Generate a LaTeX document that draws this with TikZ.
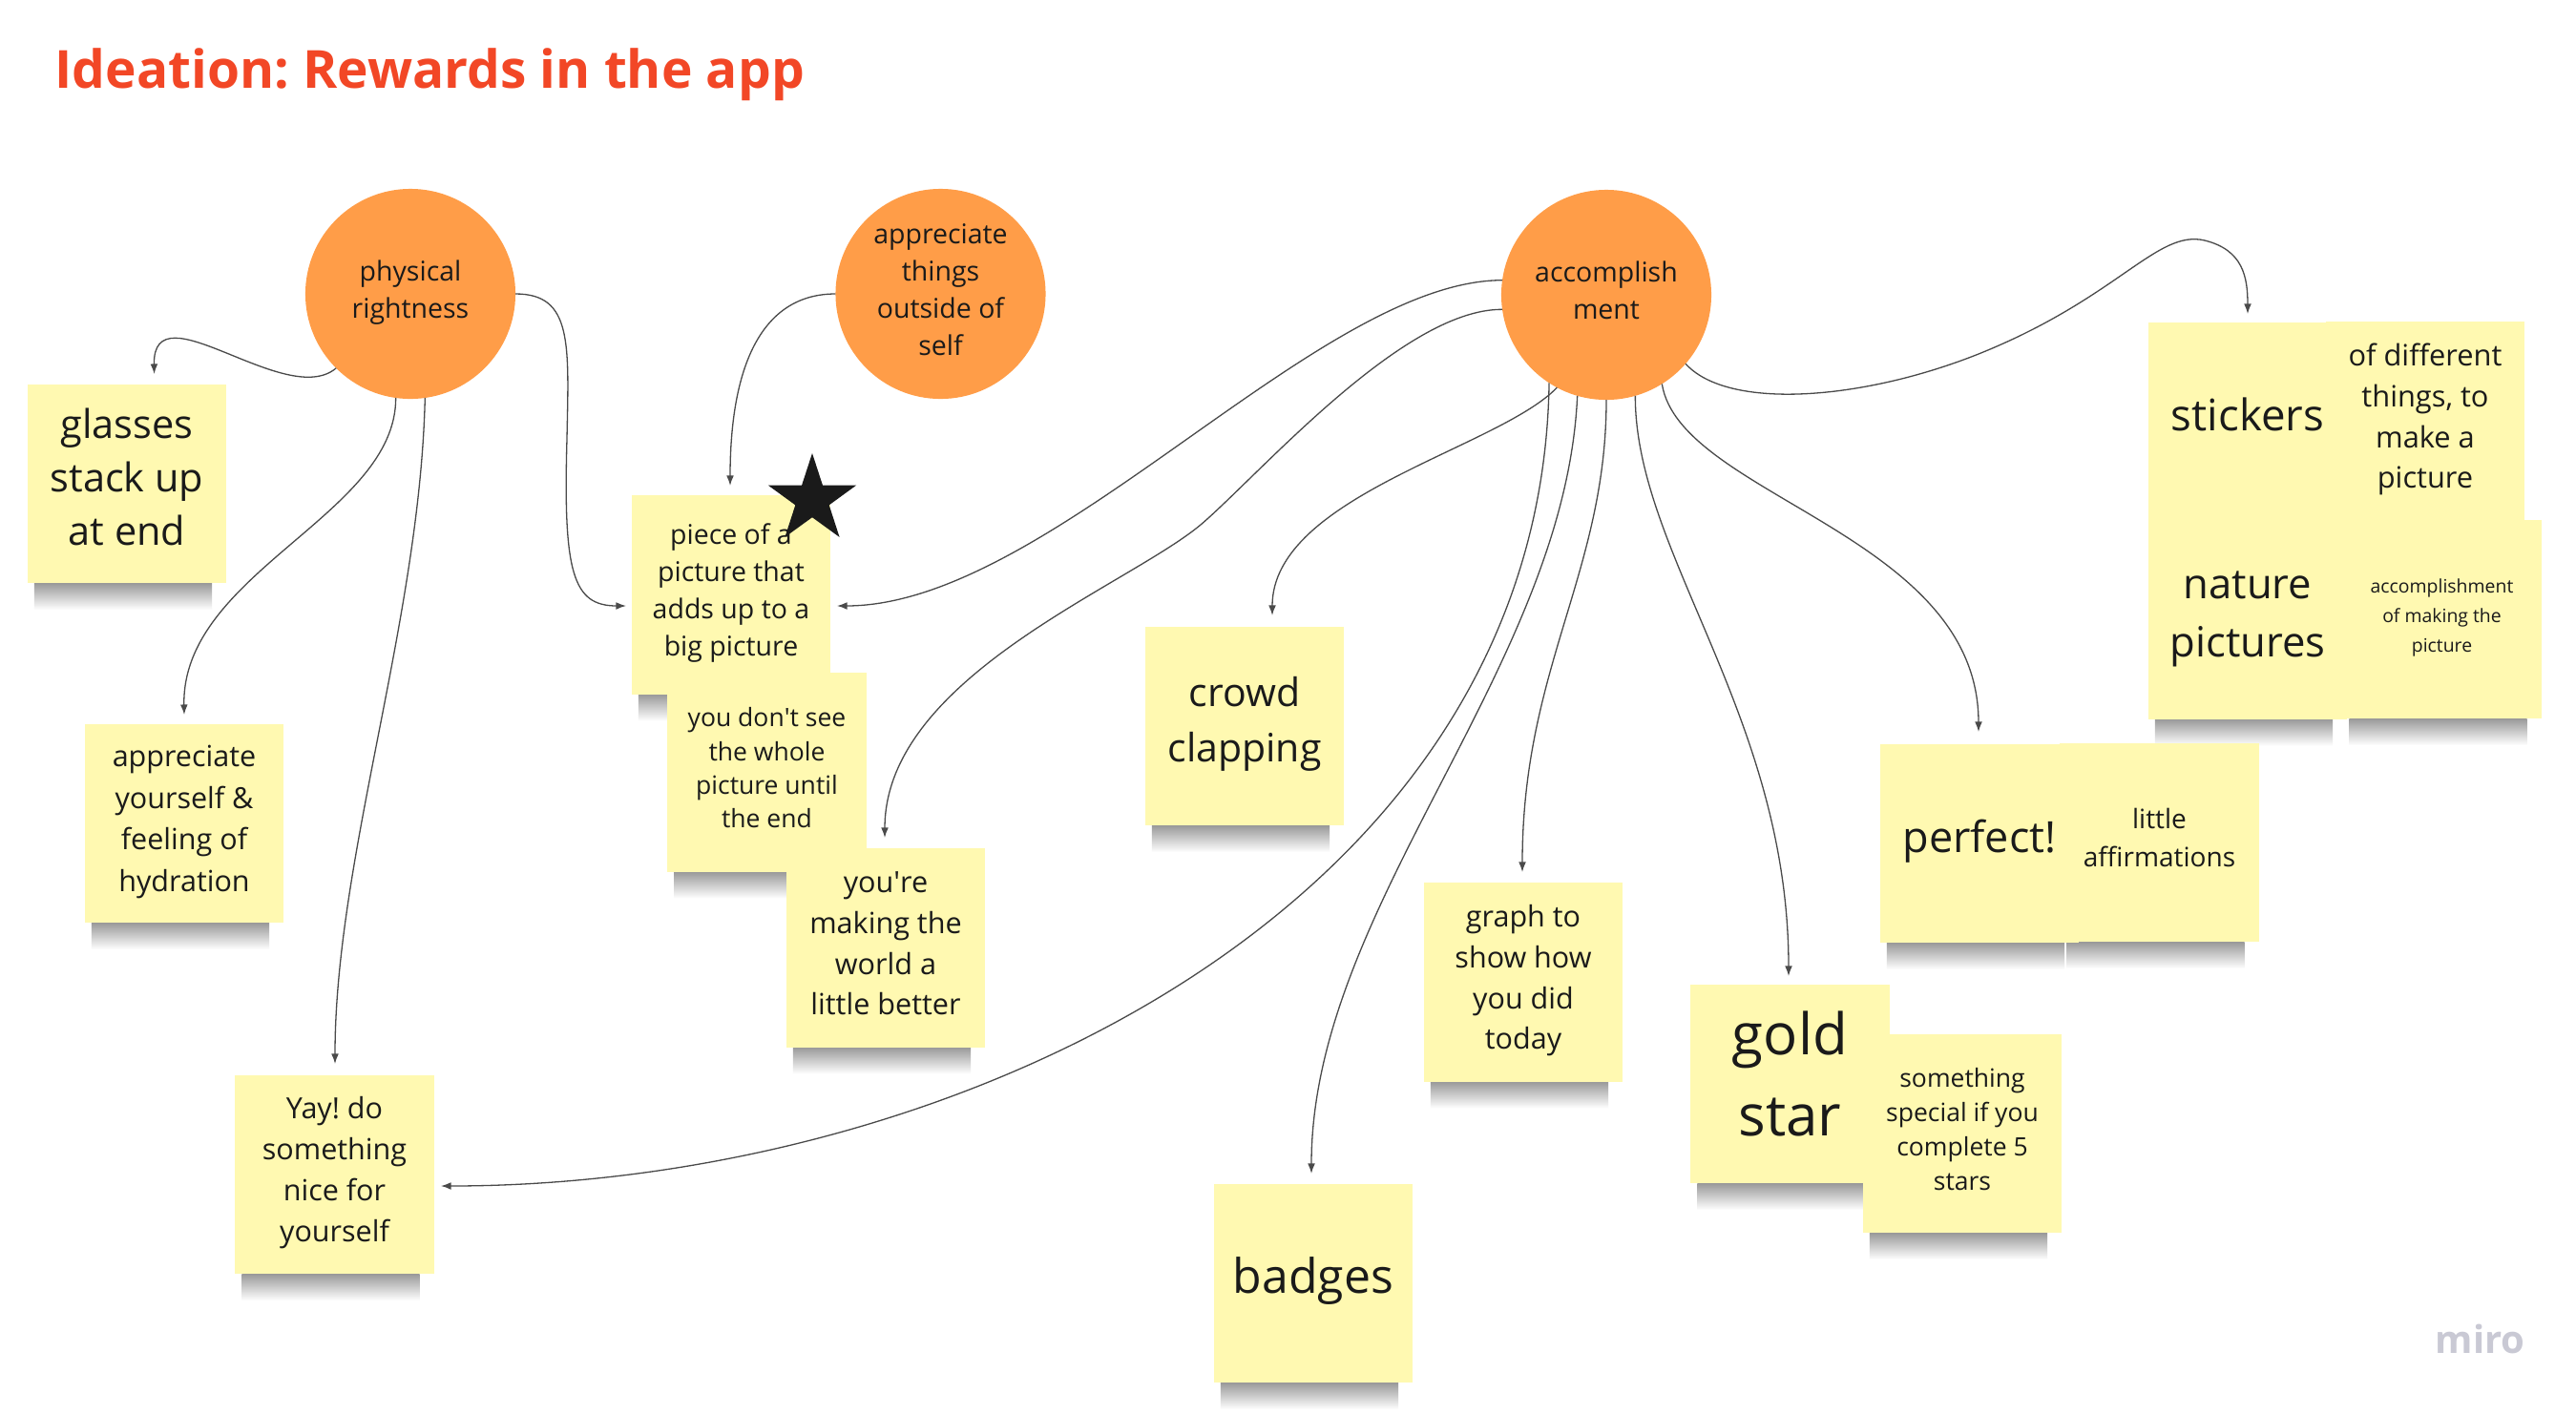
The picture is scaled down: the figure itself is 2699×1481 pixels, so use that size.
\documentclass[tikz,border=0pt]{standalone}
\usepackage{fontspec}
\setmainfont{Open Sans}
\usetikzlibrary{arrows.meta,backgrounds}
\definecolor{stick}{HTML}{FFF9B1}
\definecolor{orng}{HTML}{FF9D48}
\definecolor{titlec}{HTML}{F24726}
\definecolor{ink}{HTML}{1A1A1A}
\definecolor{wire}{HTML}{4A4A4A}
\definecolor{mirog}{HTML}{C9C9D4}
\newcommand\tbt{\rule{0pt}{1em}}
\newcommand\tbb{\rule[-0.6em]{0pt}{0.6em}}
\frenchspacing
\tikzset{
  sticky/.style={rectangle, fill=stick, minimum width=2.08cm, minimum height=2.08cm,
    inner sep=0pt, outer sep=0pt, align=center, text=ink},
  bubble/.style={circle, fill=orng, minimum size=2.2cm, inner sep=0pt, outer sep=0pt,
    align=center, text=ink, font=\fontsize{8.1pt}{11.1pt}\selectfont},
  fs/.style 2 args={font=\fontsize{#1}{#2}\selectfont},
  conn/.style={draw=wire, line width=0.37pt, -{Latex[length=3pt,width=2.2pt]}},
  shadowbar/.style={top color=black!40, bottom color=white, draw=none},
}
\begin{document}
\begin{tikzpicture}[x=0.01cm,y=-0.01cm]
\useasboundingbox (0,0) rectangle (2699,1481);

% title and watermark
\node[anchor=base west, inner sep=0pt, text=titlec, font=\fontsize{15.65pt}{19pt}\selectfont\bfseries] (title) at (57,92) {Ideation: Rewards in the app};
\node[anchor=base west, inner sep=0pt, text=mirog, font=\fontsize{11.4pt}{13pt}\selectfont\bfseries] (miro) at (2551,1418) {miro};

% circles
\node[bubble] (c1) at (430,308) {\tbt physical\\rightness\tbb};
\node[bubble] (c2) at (985.5,308) {\tbt appreciate\\things\\outside of\\self\tbb};
\node[bubble] (c3) at (1683,309) {\tbt accomplish\\ment\tbb};

% stickies
\node[sticky, fs={11.8pt}{15.9pt}] (glasses) at (133,507) {\tbt glasses\\stack up\\at end\tbb};
\node[sticky, fs={8.68pt}{12.4pt}] (appyou) at (193,863) {\tbt appreciate\\yourself \&\\feeling of\\hydration\tbb};
\node[sticky, fs={8.68pt}{12.2pt}] (yay) at (350.5,1231) {\tbt Yay! do\\something\\nice for\\yourself\tbb};
\node[sticky, fs={8.1pt}{11.1pt}] (piece) at (766,623.5) {\tbt piece of a\\picture that\\adds up to a\\big picture\tbb};
\node[sticky, fs={7.54pt}{10.07pt}] (dontsee) at (803.5,809.5) {\tbt you don\textquotesingle t see\\the whole\\picture until\\the end\tbb};
\node[sticky, fs={8.7pt}{12.2pt}] (making) at (928,993.5) {\tbt you\textquotesingle re\\making the\\world a\\little better\tbb};
\node[sticky, fs={11.67pt}{16.5pt}] (crowd) at (1304,761) {\tbt crowd\\clapping\tbb};
\node[sticky, fs={8.68pt}{12.2pt}] (graph) at (1596,1029.5) {\tbt graph to\\show how\\you did\\today\tbb};
\node[sticky, fs={14.2pt}{17pt}] (badges) at (1376,1345) {\tbt badges\tbb};
\node[sticky, fs={17.07pt}{24pt}] (gold) at (1875.5,1136) {\tbt gold\\star\tbb};
\node[sticky, fs={7.54pt}{10.2pt}] (special) at (2056,1188) {\tbt something\\special if you\\complete 5\\stars\tbb};
\node[sticky, fs={12.8pt}{15pt}] (perfect) at (2074,884) {\tbt perfect!\tbb};
\node[sticky, fs={7.97pt}{11.27pt}] (affirm) at (2262.5,883) {\tbt little\\affirmations\tbb};
\node[sticky, fs={12.97pt}{15pt}] (stickers) at (2355,442) {\tbt stickers\tbb};
\node[sticky, fs={8.76pt}{12.15pt}] (ofdiff) at (2541,441.5) {\tbt of different\\things, to\\make a\\picture\tbb};
\node[sticky, fs={12.4pt}{17.36pt}] (nature) at (2355,649.5) {\tbt nature\\pictures\tbb};
\node[sticky, fs={5.52pt}{8.82pt}] (accmaking) at (2558.5,649) {\tbt accomplishment\\of making the\\picture\tbb};

% star on the piece sticky
\fill[ink] (851,523.6) +(-90:48.6) -- +(-54:18.6) -- +(-18:48.6) -- +(18:18.6)
  -- +(54:48.6) -- +(90:18.6) -- +(126:48.6) -- +(162:18.6) -- +(198:48.6)
  -- +(234:18.6) -- cycle;

% shadows and background
\begin{pgfonlayer}{background}
\fill[white] (0,0) rectangle (2699,1481);
\foreach \n in {glasses,appyou,yay,piece,dontsee,making,crowd,graph,badges,gold,special,perfect,affirm,stickers,ofdiff,nature,accmaking}
  \shade[shadowbar] ([xshift=0.07cm]\n.south west) rectangle ([xshift=-0.15cm,yshift=-0.28cm]\n.south east);
\end{pgfonlayer}

% arrow tips
\coordinate (ta) at (161.6,392);
\coordinate (tb) at (656,635);
\coordinate (tc) at (193,749);
\coordinate (td) at (351,1115);
\coordinate (te) at (765,509);
\coordinate (tf) at (877,635);
\coordinate (tg) at (927,878);
\coordinate (th) at (1333,645);
\coordinate (ti) at (462,1243);
\coordinate (tj) at (1374,1230);
\coordinate (tk) at (1595,914);
\coordinate (tl) at (1874,1023);
\coordinate (tm) at (2073,767);
\coordinate (tn) at (2355,329);

% connectors
\draw[conn] (c1.225) .. controls (300,430) and (160,300) .. (ta);
\draw[conn] (c1.east) .. controls (600,308) and (596,360) .. (594,460) .. controls (590,600) and (600,635) .. (tb);
\draw[conn] (c1.262) .. controls (415,540) and (190,600) .. (tc);
\draw[conn] (c1.278) .. controls (440,650) and (351,900) .. (td);
\draw[conn] (c2.west) .. controls (800,308) and (765,380) .. (te);
\draw[conn] (c3.172) .. controls (1380,294) and (1100,635) .. (tf);
\draw[conn] (c3.188) .. controls (1470,323.5) and (1319,498) .. (1258,550) .. controls (1180,615) and (927,710) .. (tg);
\draw[conn] (c3.242) .. controls (1570,470) and (1333,520) .. (th);
\draw[conn] (c3.237) .. controls (1615,950) and (1000,1243) .. (ti);
\draw[conn] (c3.254) .. controls (1640,700) and (1374,950) .. (tj);
\draw[conn] (c3.270) .. controls (1683,600) and (1595,700) .. (tk);
\draw[conn] (c3.286) .. controls (1713,580) and (1874,750) .. (tl);
\draw[conn] (c3.302) .. controls (1760,520) and (2073,560) .. (tm);
\draw[conn] (c3.319) .. controls (1810,430) and (1950,420) .. (2073,371) .. controls (2220,312) and (2260,240) .. (2310,252) .. controls (2350,262) and (2355,290) .. (tn);
\end{tikzpicture}
\end{document}
